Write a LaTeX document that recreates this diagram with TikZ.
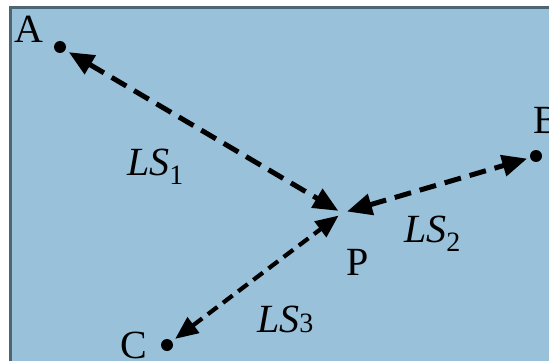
\documentclass[tikz,border=0pt]{standalone}
\usepackage{fontspec}
\setmainfont{Liberation Serif}
\usetikzlibrary{arrows.meta}
\definecolor{bgblue}{HTML}{99C1DA}
\definecolor{frame}{HTML}{4D6673}
\tikzset{
  dotnode/.style={circle,fill=black,inner sep=0pt,minimum size=12pt},
  hubnode/.style={circle,inner sep=0pt,minimum size=2pt},
  lbl/.style={inner sep=0pt,font=\fontsize{40}{40}\selectfont},
  conn/.style={line width=5pt,dash pattern=on 17pt off 9pt,
    {Triangle[length=25pt,width=21pt]}-{Triangle[length=25pt,width=21pt]},
    shorten <=4pt, shorten >=3pt},
  connthin/.style={line width=4.2pt,dash pattern=on 12pt off 7pt,
    {Triangle[length=23pt,width=19pt]}-{Triangle[length=23pt,width=19pt]},
    shorten <=4pt, shorten >=3pt},
}
\newcommand{\sbs}[1]{\raisebox{-9pt}{\upshape\fontsize{28}{28}\selectfont #1}}
\begin{document}
\begin{tikzpicture}[x=1pt,y=-1pt]
\useasboundingbox (0,0) rectangle (549,361);
\fill[white] (0,0) rectangle (549,361);
\fill[bgblue] (9,6) rectangle (549,361);
\draw[frame,line width=3.4pt] (10.7,361) -- (10.7,7.7) -- (549,7.7);
% points
\node[dotnode] (A) at (60,47) {};
\node[dotnode] (B) at (536,156) {};
\node[dotnode] (C) at (167,345) {};
\node[hubnode] (P) at (342,213) {};
% connectors
\draw[conn] (A) -- (P);
\draw[conn] (P) -- (B);
\draw[connthin] (C) -- (P);
% labels
\node[lbl] (lA) at (29,29) {A};
\node[lbl] (lB) at (547,120) {B};
\node[lbl] (lC) at (134,345) {C};
\node[lbl] (lP) at (358,262) {P};
\node[lbl,anchor=base west] (l1) at (127,175) {\itshape LS\/\sbs{1}};
\node[lbl,anchor=base west] (l2) at (404,242) {\itshape LS\/\sbs{2}};
\node[lbl,anchor=base west] (l3) at (257,332) {\itshape LS\/{\upshape\fontsize{28}{28}\selectfont 3}};
\end{tikzpicture}
\end{document}
